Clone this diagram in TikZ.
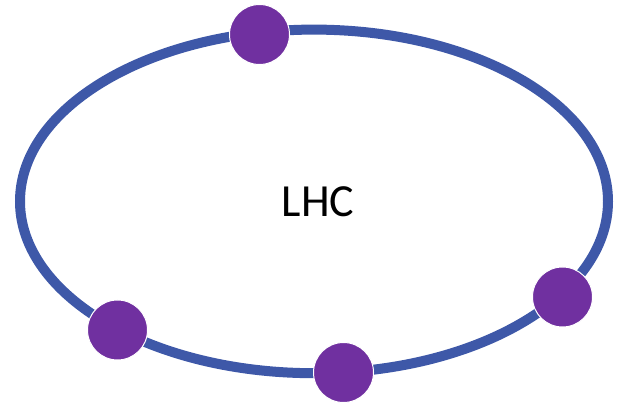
\documentclass[tikz,border=0pt]{standalone}
\usepackage{fontspec}
\setmainfont{Carlito}
\definecolor{ringblue}{HTML}{3E58A8}
\definecolor{dotpurple}{HTML}{7030A0}
\begin{document}
\begin{tikzpicture}[x=1pt,y=-1pt,
  ring/.style={draw=ringblue,line width=10pt},
  dot/.style={circle,fill=dotpurple,draw=white,line width=1pt,minimum size=60pt,inner sep=0pt}]
\useasboundingbox (0,0) rectangle (619,403);
\draw[ring] (314,201.4) ellipse [x radius=294, y radius=171.8];
\node[font=\fontsize{46}{50}\selectfont] (lhc) at (318,202) {LHC};
\node[dot] (d1) at (259.5,34.5) {};
\node[dot] (d2) at (117.5,330) {};
\node[dot] (d3) at (343.5,372.5) {};
\node[dot] (d4) at (562.5,297) {};
\end{tikzpicture}
\end{document}
